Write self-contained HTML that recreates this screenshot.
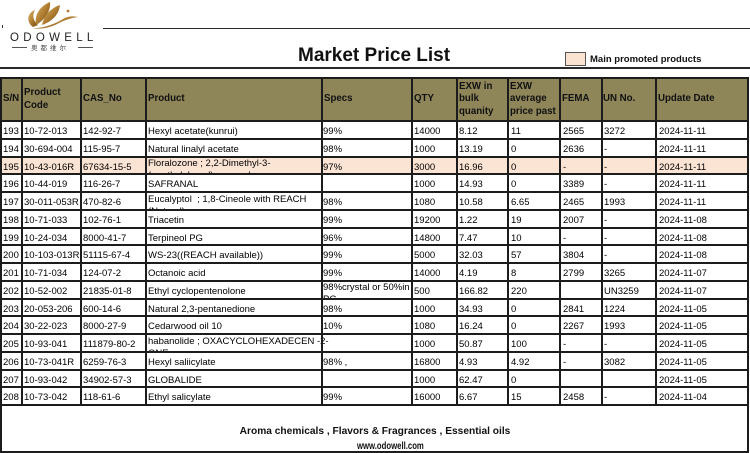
<!DOCTYPE html>
<html><head><meta charset="utf-8">
<style>
html,body{margin:0;padding:0;background:#fff;}
body{width:750px;height:453px;position:relative;overflow:hidden;font-family:"Liberation Sans","Noto Sans CJK SC",sans-serif;color:#000;}
.abs{position:absolute;}
.hl{position:absolute;height:2px;background:#1c1c1c;}
.vl{position:absolute;width:2px;background:#1c1c1c;}
.row{position:absolute;left:0;width:750px;height:17.75px;}
.row span{position:absolute;top:2px;line-height:17.75px;font-size:9.5px;white-space:nowrap;}
.row span.w{top:1px;height:15.8px;overflow:hidden;line-height:12px;padding-top:0.5px;}
.row span:nth-child(1){left:3px}
.row span:nth-child(2){left:24px}
.row span:nth-child(3){left:83px}
.row span:nth-child(4){left:148px}
.row span:nth-child(5){left:323px}
.row span:nth-child(6){left:414px}
.row span:nth-child(7){left:459px}
.row span:nth-child(8){left:511px}
.row span:nth-child(9){left:563px}
.row span:nth-child(10){left:604px}
.row span:nth-child(11){left:659px}
.hd{position:absolute;top:78.5px;height:42px;display:flex;align-items:center;font-weight:bold;font-size:9.7px;line-height:12.5px;color:#111;}
</style></head><body>

<!-- logo -->
<svg class="abs" style="left:0;top:0" width="110" height="34" viewBox="0 0 110 34">
<defs>
<linearGradient id="g" x1="0" y1="0" x2="1" y2="1">
<stop offset="0" stop-color="#dcb86c"/><stop offset="0.5" stop-color="#b07e32"/><stop offset="1" stop-color="#6e4512"/>
</linearGradient>
</defs>
<path d="M33 27 C26 22 27 13 35 10 C32 15 33 21 38 25 Z" fill="url(#g)"/>
<path d="M36 25 C34 15 40 6 50 2 C51 10 46 19 36 25 Z" fill="url(#g)"/>
<path d="M42 25 C44 15 51 8 60 5 C59 14 53 21 42 25 Z" fill="url(#g)"/>
<path d="M32 28 C42 29 55 24 63 19 C68 16 72 16 78 17 C71 18 66 20 61 22 C52 27 42 30 32 28 Z" fill="url(#g)"/>
<circle cx="68" cy="11" r="1.4" fill="#b07e32"/>
<rect x="2" y="25" width="1" height="3" fill="#333"/>
</svg>
<div class="abs" style="left:10px;top:32px;font-size:11.5px;letter-spacing:4.3px;color:#222;line-height:13px;">ODOWELL</div>
<div class="abs" style="left:12px;top:47px;width:15px;height:1px;background:#555;"></div>
<div class="abs" style="left:78px;top:47px;width:15px;height:1px;background:#555;"></div>
<div class="abs" style="left:31px;top:43px;font-size:6.5px;letter-spacing:3px;color:#444;line-height:8px;font-family:'Noto Sans CJK SC',sans-serif;">奥都维尔</div>

<!-- top rules -->
<div class="abs" style="left:103px;top:27.5px;width:647px;height:1.6px;background:#2a2a2a;"></div>
<div class="abs" style="left:0;top:67.3px;width:750px;height:1.6px;background:#2a2a2a;"></div>

<!-- title -->
<div class="abs" style="left:298px;top:45px;font-size:19px;font-weight:bold;line-height:22px;color:#111;">Market Price List</div>

<!-- legend -->
<div class="abs" style="left:565px;top:52px;width:19px;height:12px;background:#fbe3d2;border:1px solid #555;"></div>
<div class="abs" style="left:590px;top:53px;font-size:9.5px;font-weight:bold;line-height:13px;color:#111;">Main promoted products</div>

<!-- header band -->
<div class="abs" style="left:0;top:77px;width:749px;height:44px;background:#8e8559;"></div>
<!-- promoted row fill -->
<div class="abs" style="left:2px;top:157.5px;width:745px;height:15.8px;background:#fce4d4;"></div>

<!-- header texts -->
<div class="hd" style="left:3px">S/N</div>
<div class="hd" style="left:24px">Product<br>Code</div>
<div class="hd" style="left:83px">CAS_No</div>
<div class="hd" style="left:148px">Product</div>
<div class="hd" style="left:324px">Specs</div>
<div class="hd" style="left:414px">QTY</div>
<div class="hd" style="left:459px">EXW in<br>bulk<br>quanity</div>
<div class="hd" style="left:510px">EXW<br>average<br>price past</div>
<div class="hd" style="left:562px">FEMA</div>
<div class="hd" style="left:603px">UN No.</div>
<div class="hd" style="left:658px">Update Date</div>

<!-- rows -->
<div class="row" style="top:121px"><span>193</span><span>10-72-013</span><span>142-92-7</span><span>Hexyl acetate(kunrui)</span><span>99%</span><span>14000</span><span>8.12</span><span>11</span><span>2565</span><span>3272</span><span>2024-11-11</span></div>
<div class="row" style="top:138.75px"><span>194</span><span>30-694-004</span><span>115-95-7</span><span>Natural linalyl acetate</span><span>98%</span><span>1000</span><span>13.19</span><span>0</span><span>2636</span><span>-</span><span>2024-11-11</span></div>
<div class="row" style="top:156.5px"><span>195</span><span>10-43-016R</span><span>67634-15-5</span><span class="w">Floralozone ; 2,2-Dimethyl-3-<br>(m-ethylphenyl)propanal</span><span>97%</span><span>3000</span><span>16.96</span><span>0</span><span>-</span><span>-</span><span>2024-11-11</span></div>
<div class="row" style="top:174.25px"><span>196</span><span>10-44-019</span><span>116-26-7</span><span>SAFRANAL</span><span></span><span>1000</span><span>14.93</span><span>0</span><span>3389</span><span>-</span><span>2024-11-11</span></div>
<div class="row" style="top:192px"><span>197</span><span>30-011-053R</span><span>470-82-6</span><span class="w">Eucalyptol &nbsp;; 1,8-Cineole with REACH<br>(Natural)</span><span>98%</span><span>1080</span><span>10.58</span><span>6.65</span><span>2465</span><span>1993</span><span>2024-11-11</span></div>
<div class="row" style="top:209.75px"><span>198</span><span>10-71-033</span><span>102-76-1</span><span>Triacetin</span><span>99%</span><span>19200</span><span>1.22</span><span>19</span><span>2007</span><span>-</span><span>2024-11-08</span></div>
<div class="row" style="top:227.5px"><span>199</span><span>10-24-034</span><span>8000-41-7</span><span>Terpineol PG</span><span>96%</span><span>14800</span><span>7.47</span><span>10</span><span>-</span><span>-</span><span>2024-11-08</span></div>
<div class="row" style="top:245.25px"><span>200</span><span>10-103-013R</span><span>51115-67-4</span><span>WS-23((REACH available))</span><span>99%</span><span>5000</span><span>32.03</span><span>57</span><span>3804</span><span>-</span><span>2024-11-08</span></div>
<div class="row" style="top:263px"><span>201</span><span>10-71-034</span><span>124-07-2</span><span>Octanoic acid</span><span>99%</span><span>14000</span><span>4.19</span><span>8</span><span>2799</span><span>3265</span><span>2024-11-07</span></div>
<div class="row" style="top:280.75px"><span>202</span><span>10-52-002</span><span>21835-01-8</span><span>Ethyl cyclopentenolone</span><span class="w">98%crystal or 50%in<br>PG</span><span>500</span><span>166.82</span><span>220</span><span></span><span>UN3259</span><span>2024-11-07</span></div>
<div class="row" style="top:298.5px"><span>203</span><span>20-053-206</span><span>600-14-6</span><span>Natural 2,3-pentanedione</span><span>98%</span><span>1000</span><span>34.93</span><span>0</span><span>2841</span><span>1224</span><span>2024-11-05</span></div>
<div class="row" style="top:316.25px"><span>204</span><span>30-22-023</span><span>8000-27-9</span><span>Cedarwood oil 10</span><span>10%</span><span>1080</span><span>16.24</span><span>0</span><span>2267</span><span>1993</span><span>2024-11-05</span></div>
<div class="row" style="top:334px"><span>205</span><span>10-93-041</span><span>111879-80-2</span><span class="w">habanolide ; OXACYCLOHEXADECEN -2-<br>ONE</span><span></span><span>1000</span><span>50.87</span><span>100</span><span>-</span><span>-</span><span>2024-11-05</span></div>
<div class="row" style="top:351.75px"><span>206</span><span>10-73-041R</span><span>6259-76-3</span><span>Hexyl saliicylate</span><span>98% ,</span><span>16800</span><span>4.93</span><span>4.92</span><span>-</span><span>3082</span><span>2024-11-05</span></div>
<div class="row" style="top:369.5px"><span>207</span><span>10-93-042</span><span>34902-57-3</span><span>GLOBALIDE</span><span></span><span>1000</span><span>62.47</span><span>0</span><span></span><span></span><span>2024-11-05</span></div>
<div class="row" style="top:387.25px"><span>208</span><span>10-73-042</span><span>118-61-6</span><span>Ethyl salicylate</span><span>99%</span><span>16000</span><span>6.67</span><span>15</span><span>2458</span><span>-</span><span>2024-11-04</span></div>

<!-- horizontal lines -->
<div class="hl" style="left:0;width:749px;top:76.5px"></div>
<div class="hl" style="left:0;width:749px;top:120px"></div>
<div class="hl" style="left:0;width:749px;top:137.75px"></div>
<div class="hl" style="left:0;width:749px;top:155.5px"></div>
<div class="hl" style="left:0;width:749px;top:173.25px"></div>
<div class="hl" style="left:0;width:749px;top:191px"></div>
<div class="hl" style="left:0;width:749px;top:208.75px"></div>
<div class="hl" style="left:0;width:749px;top:226.5px"></div>
<div class="hl" style="left:0;width:749px;top:244.25px"></div>
<div class="hl" style="left:0;width:749px;top:262px"></div>
<div class="hl" style="left:0;width:749px;top:279.75px"></div>
<div class="hl" style="left:0;width:749px;top:297.5px"></div>
<div class="hl" style="left:0;width:749px;top:315.25px"></div>
<div class="hl" style="left:0;width:749px;top:333px"></div>
<div class="hl" style="left:0;width:749px;top:350.75px"></div>
<div class="hl" style="left:0;width:749px;top:368.5px"></div>
<div class="hl" style="left:0;width:749px;top:386.25px"></div>
<div class="hl" style="left:0;width:749px;top:404px"></div>
<div class="hl" style="left:0;width:749px;top:450.5px"></div>

<!-- vertical lines -->
<div class="vl" style="left:0;top:76.5px;height:376px"></div>
<div class="vl" style="left:20.8px;top:76.5px;height:329px"></div>
<div class="vl" style="left:80px;top:76.5px;height:329px"></div>
<div class="vl" style="left:144.7px;top:76.5px;height:329px"></div>
<div class="vl" style="left:320.5px;top:76.5px;height:329px"></div>
<div class="vl" style="left:410.5px;top:76.5px;height:329px"></div>
<div class="vl" style="left:456px;top:76.5px;height:329px"></div>
<div class="vl" style="left:507px;top:76.5px;height:329px"></div>
<div class="vl" style="left:559px;top:76.5px;height:329px"></div>
<div class="vl" style="left:600.5px;top:76.5px;height:329px"></div>
<div class="vl" style="left:654.7px;top:76.5px;height:329px"></div>
<div class="vl" style="left:747px;top:76.5px;height:376px"></div>

<!-- footer -->
<div class="abs" style="left:0;width:750px;top:425px;text-align:center;font-size:10.2px;font-weight:bold;line-height:13px;color:#111;">Aroma chemicals , Flavors &amp; Fragrances , Essential oils</div>
<div class="abs" style="left:357px;top:440px;font-size:10.2px;font-weight:bold;line-height:13px;color:#111;transform:scaleX(0.76);transform-origin:0 0;white-space:nowrap;">www.odowell.com</div>

</body></html>
